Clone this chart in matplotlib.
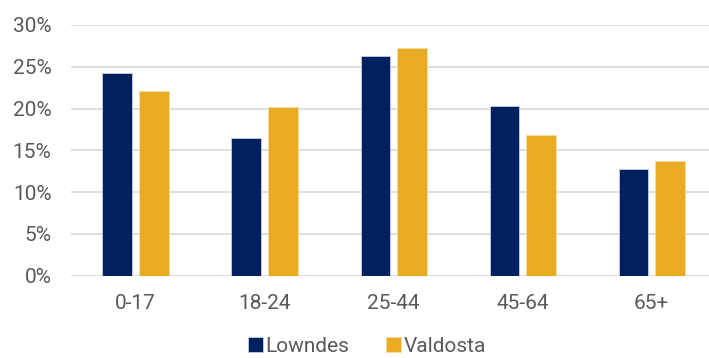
import matplotlib.pyplot as plt
import numpy as np

plt.rcParams['font.family'] = ['Roboto', 'DejaVu Sans']

age_groups = ['0-17', '18-24', '25-44', '45-64', '65+']
lowndes = [24.2, 16.5, 26.3, 20.3, 12.7]
valdosta = [22.1, 20.2, 27.3, 16.8, 13.7]

navy = '#002060'
gold = '#E9AB24'
grey = '#595959'

fig = plt.figure(figsize=(7.09, 3.58), dpi=100)
ax = fig.add_axes([71 / 709, 1 - 275.5 / 358, 638 / 709, 250.5 / 358])

x = np.arange(len(age_groups))
w = 0.229
ax.bar(x - 0.1415, lowndes, w, color=navy, edgecolor='#c9cfe0', linewidth=0.6,
       label='Lowndes', zorder=3)
ax.bar(x + 0.1415, valdosta, w, color=gold, edgecolor='#f5dca0', linewidth=0.6,
       label='Valdosta', zorder=3)

ax.set_ylim(0, 30)
ax.set_xlim(-0.5, 4.445)
ax.set_yticks(range(0, 31, 5))
ax.set_yticklabels([f'{v}%' for v in range(0, 31, 5)])
ax.set_xticks(x)
ax.set_xticklabels(age_groups)
ax.yaxis.grid(True, color='#d9d9d9', linewidth=1.2, zorder=0)
ax.tick_params(length=0, labelsize=15, colors=grey)
ax.tick_params(axis='x', pad=13)
ax.tick_params(axis='y', pad=14)
for s in ax.spines.values():
    s.set_visible(False)

ax.legend(loc='center', bbox_to_anchor=(0.464, -0.283), ncol=2, frameon=False,
          fontsize=15, labelcolor=grey, handlelength=0.7, handleheight=0.7,
          handletextpad=0.15, columnspacing=1.75)

fig.savefig('out.png', dpi=100)
